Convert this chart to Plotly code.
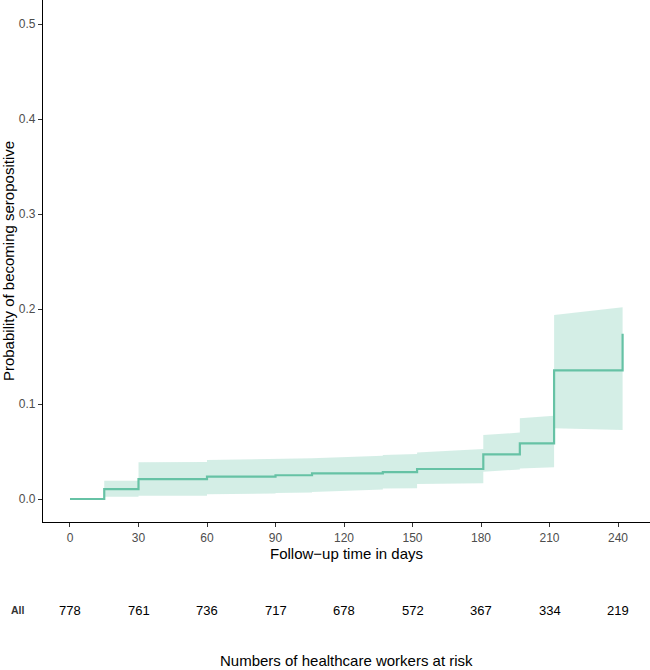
import plotly.graph_objects as go

# Kaplan-Meier style cumulative incidence (step function)
event_days = [0, 15, 30, 60, 90, 106, 137, 152, 181, 197, 212, 242]
estimate = [0.0, 0.0105, 0.021, 0.0235, 0.025, 0.027, 0.0284, 0.0316, 0.047, 0.0586, 0.1355, 0.1740]

# confidence band per interval (start / end of each interval)
band_start = [15, 30, 60, 90, 106, 137, 152, 181, 197, 212]
band_end = [30, 60, 90, 106, 137, 152, 181, 197, 212, 242]
upper_start = [0.0193, 0.0386, 0.0410, 0.0420, 0.0430, 0.0463, 0.0490, 0.0674, 0.0850, 0.1937]
upper_end = [0.0193, 0.0390, 0.0418, 0.0425, 0.0455, 0.0475, 0.0526, 0.0699, 0.0877, 0.2018]
lower_start = [0.0024, 0.0035, 0.0050, 0.0062, 0.0075, 0.0110, 0.0158, 0.0288, 0.0320, 0.0744]
lower_end = [0.0024, 0.0035, 0.0058, 0.0068, 0.0100, 0.0113, 0.0165, 0.0310, 0.0335, 0.0726]

# risk table
risk_days = [0, 30, 60, 90, 120, 150, 180, 210, 240]
risk_counts = [778, 761, 736, 717, 678, 572, 367, 334, 219]

x_ticks = [0, 30, 60, 90, 120, 150, 180, 210, 240]
y_ticks = [0.0, 0.1, 0.2, 0.3, 0.4, 0.5]

LINE = "#66c2a5"
FILL = "rgba(102,194,165,0.28)"
FONT = "Liberation Sans"

bx, by_up = [], []
for s, e, us, ue in zip(band_start, band_end, upper_start, upper_end):
    bx += [s, e]
    by_up += [us, ue]
lx, ly = [], []
for s, e, ls, le in zip(band_start, band_end, lower_start, lower_end):
    lx += [s, e]
    ly += [ls, le]
poly_x = bx + lx[::-1]
poly_y = by_up + ly[::-1]

fig = go.Figure()
fig.add_trace(go.Scatter(x=poly_x, y=poly_y, fill="toself", fillcolor=FILL,
                         line=dict(width=0), mode="lines", hoverinfo="skip",
                         showlegend=False))
fig.add_trace(go.Scatter(x=event_days, y=estimate, mode="lines",
                         line=dict(color=LINE, width=2.2, shape="hv"),
                         showlegend=False))

ROW_Y = -0.1686
annotations = []
for d, n in zip(risk_days, risk_counts):
    annotations.append(dict(x=d, y=ROW_Y, xref="x", yref="paper", text=str(n),
                            showarrow=False, font=dict(family=FONT, size=13, color="black"),
                            xanchor="center", yanchor="middle"))
annotations.append(dict(x=(18 - 43) / 607, y=ROW_Y, xref="paper", yref="paper", text="<b>All</b>",
                        showarrow=False, font=dict(family=FONT, size=10.5, color="#333333"),
                        xanchor="center", yanchor="middle"))
annotations.append(dict(x=0.5, y=-0.266, xref="paper", yref="paper",
                        text="Numbers of healthcare workers at risk",
                        showarrow=False, font=dict(family=FONT, size=15, color="black"),
                        xanchor="center", yanchor="middle"))

fig.update_layout(
    width=650, height=670,
    margin=dict(l=43, r=0, t=0, b=148),
    paper_bgcolor="white", plot_bgcolor="white",
    font=dict(family=FONT),
    annotations=annotations,
    xaxis=dict(range=[-11.82, 254.0], tickvals=x_ticks, ticks="outside", ticklen=4,
               tickcolor="#333333", tickwidth=1, showgrid=False, zeroline=False,
               showline=True, linecolor="black", linewidth=1.3,
               tickfont=dict(family=FONT, size=12, color="#4d4d4d"),
               title=dict(text="Follow\u2212up time in days", standoff=3,
                          font=dict(family=FONT, size=15, color="black"))),
    yaxis=dict(range=[-0.0242, 0.5253], tickvals=y_ticks, tickformat=".1f",
               ticks="outside", ticklen=4, tickcolor="#333333", tickwidth=1,
               showgrid=False, zeroline=False, showline=True, linecolor="black",
               linewidth=1.3, tickfont=dict(family=FONT, size=12, color="#4d4d4d"),
               title=dict(text="Probability of becoming seropositive", standoff=6,
                          font=dict(family=FONT, size=15, color="black"))),
)

fig.write_html("out.html", config={"displayModeBar": False},
               post_script="document.body.style.margin='0px';")
